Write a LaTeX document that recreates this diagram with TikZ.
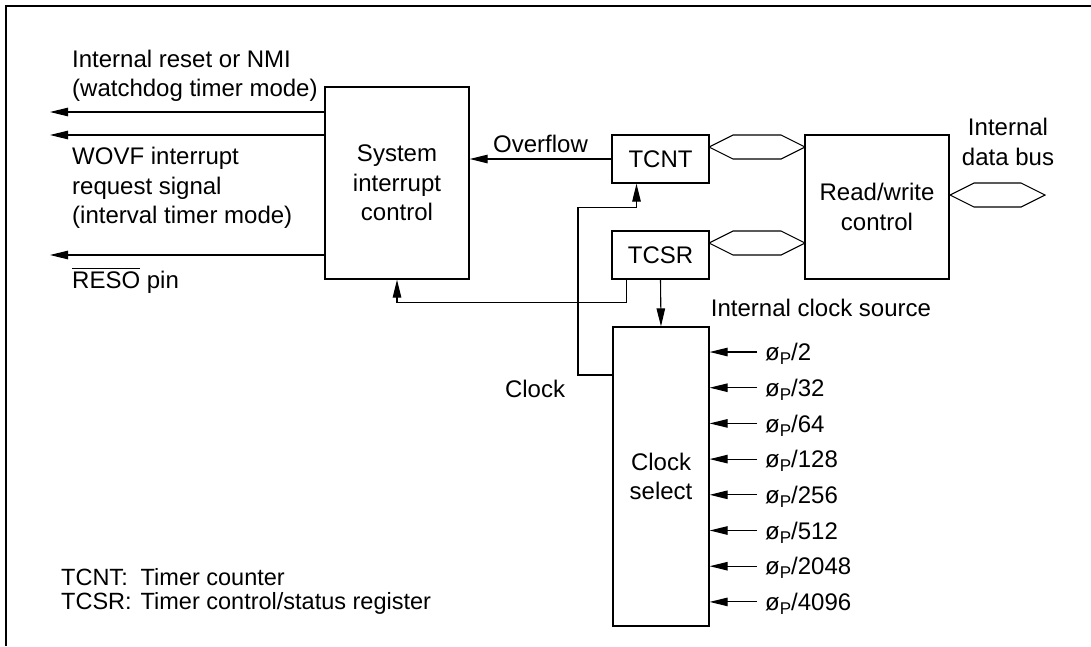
\documentclass[tikz,border=0pt]{standalone}
\usepackage{fontspec}
\setmainfont{Liberation Sans}
\usepackage{tikz}
\usetikzlibrary{arrows.meta}

\begin{document}
\begin{tikzpicture}[x=1pt, y=-1pt,
  font=\fontsize{24}{29.5}\selectfont,
  block/.style={draw, line width=1.3pt, inner sep=0pt, align=center},
  sig/.style={line width=1.1pt, -{Triangle[length=18pt,width=8.5pt]}},
  lbl/.style={inner sep=0pt, align=left, anchor=west}]
  \useasboundingbox (0,0) rectangle (1091,646);

  % Frame
  \draw[line width=2pt] (1091,6) -- (6,6) -- (6,646);

  % Bus macro, clock symbol and overbar
  % #1=left x, #2=right x, #3=centre y
  \newcommand{\busline}[3]{%
    \draw[line width=1.1pt] (#1,#3) -- ++(24,-12) -- (#2-24,#3-12) -- (#2,#3)
      -- (#2-24,#3+12) -- (#1+24,#3+12) -- cycle;
  }
  \newcommand{\phiP}{ø\raisebox{-4pt}{\fontsize{17}{17}\selectfont P}}
  \newcommand{\ovl}[1]{\setbox0\hbox{#1}\rlap{\rule[\dimexpr\ht0+2.5pt\relax]{\wd0}{1.1pt}}\box0\relax}

  % Blocks
  \node[block, minimum width=144pt, minimum height=192pt] (sic) at (397,183) {System\\interrupt\\control};
  \node[block, minimum width=97pt, minimum height=48pt] (tcnt) at (660.5,159) {TCNT};
  \node[block, minimum width=97pt, minimum height=48pt] (tcsr) at (660.5,255) {TCSR};
  \node[block, minimum width=144pt, minimum height=144pt] (rw) at (877,207) {Read/write\\control};
  \node[block, minimum width=96pt, minimum height=299pt] (cs) at (661,476.5) {Clock\\select};

  % Data buses
  \busline{709}{805}{147}
  \busline{709}{805}{243}
  \busline{950}{1045}{195}
  \node[align=center] (dbus) at (1008,142) {Internal\\data bus};

  % Outputs of system interrupt control
  \coordinate (wdt) at (50,112);
  \coordinate (wovf) at (50,135);
  \coordinate (reso) at (50,255);
  \draw[sig] (sic.west |- wdt) -- (wdt);
  \draw[sig] (sic.west |- wovf) -- (wovf);
  \draw[sig] (sic.west |- reso) -- (reso);
  \node[lbl] (wdtl) at (72,76) {Internal reset or NMI\\(watchdog timer mode)};
  \node[lbl] (wovfl) at (72,188) {WOVF interrupt\\request signal\\(interval timer mode)};
  \node[lbl] (resol) at (72,281) {\ovl{RESO} pin};

  % Overflow, TCSR and clock paths
  \draw[sig] (tcnt.west) -- (tcnt.west -| sic.east)
    node[midway, above=6pt, inner sep=0pt] (ovf) {Overflow};
  \draw[sig] ([xshift=-34pt]tcsr.south) -- ++(0,23) -| (sic.south);
  \draw[sig] (tcsr.south) -- (cs.north);
  \coordinate (clkbend) at (578,375);
  \draw[sig] (cs.west |- clkbend) -- (clkbend)
    |- ([xshift=-24pt,yshift=-24pt]tcnt.south) -- ([xshift=-24pt]tcnt.south);
  \node (clkl) at (535,389) {Clock};

  % Internal clock sources
  \node (srcl) at (821,308) {Internal clock source};
  \foreach \d [count=\i from 0] in {2,32,64,128,256,512,2048,4096} {
    \node[lbl, inner xsep=8pt, text depth=0pt] (in\i) at (757,352+35.7*\i) {\phiP/\d};
    \draw[sig] (in\i.west) -- (cs.east |- in\i.west);
  }

  % Legend
  \node[lbl, font=\fontsize{23.5}{22}\selectfont] (legend) at (61,592)
    {\begin{tabular}{@{}l@{\hspace{9pt}}l@{}}TCNT: & Timer counter\\TCSR: & Timer control/status register\end{tabular}};
\end{tikzpicture}
\end{document}
